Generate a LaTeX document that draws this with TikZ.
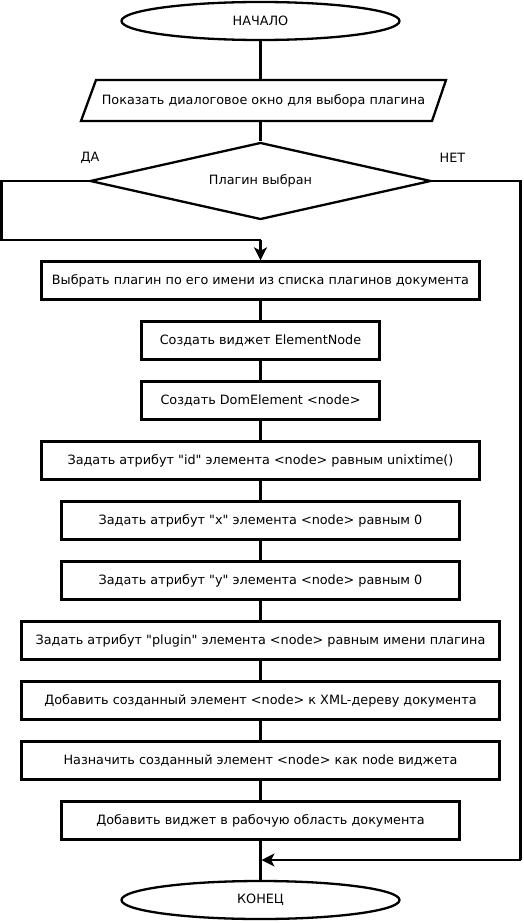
\documentclass[tikz,border=0pt]{standalone}
\usepackage{fontspec}
\setmainfont{DejaVu Sans}[Ligatures=TeXOff]
\usetikzlibrary{shapes.geometric,arrows.meta}
\tikzset{
  base/.style={draw=black, line width=2.3pt, inner sep=0pt, font=\fontsize{12.8}{15}\selectfont},
  procbox/.style={base, rectangle, minimum height=38pt},
  term/.style={base, ellipse, minimum width=278pt, minimum height=38pt},
  decis/.style={base, diamond, aspect=4.34, minimum width=341pt, minimum height=77pt},
  lbl/.style={inner sep=0pt, font=\fontsize{12.8}{15}\selectfont},
  conn/.style={line width=2.3pt, draw=black},
  arr/.style={conn, -{Stealth[length=13pt,width=13pt,inset=3.5pt]}}
}
\begin{document}
\begin{tikzpicture}[x=1pt,y=-1pt]
\fill[white] (0,0) rectangle (524,923);
\useasboundingbox (0,0) rectangle (524,923);

\node[term] (start) at (260.5,21) {НАЧАЛО};
\node[lbl] (io) at (263.5,100.5) {Показать диалоговое окно для выбора плагина};
\draw[line width=2.3pt, line join=miter] (96,80) -- (446,80) -- (432,121) -- (81,121) -- cycle;
\coordinate (ioN) at (260.5,80);
\coordinate (ioS) at (260.5,121);
\node[decis] (dia) at (260.5,181) {};
\node[lbl] at (260.5,181) {Плагин выбран};
\node[lbl] (yes) at (90,157.5) {ДА};
\node[lbl] (no) at (452.5,157.5) {НЕТ};

\node[procbox, minimum width=438pt] (b1) at (260.5,280.5) {Выбрать плагин по его имени из списка плагинов документа};
\node[procbox, minimum width=238pt] (b2) at (260.5,340.5) {Создать виджет ElementNode};
\node[procbox, minimum width=238pt] (b3) at (260.5,400.5) {Создать DomElement <node>};
\node[procbox, minimum width=438pt] (b4) at (260.5,460.5) {Задать атрибут "id" элемента <node> равным unixtime()};
\node[procbox, minimum width=398pt] (b5) at (260.5,520.5) {Задать атрибут "x" элемента <node> равным 0};
\node[procbox, minimum width=398pt] (b6) at (260.5,580.5) {Задать атрибут "y" элемента <node> равным 0};
\node[procbox, minimum width=478pt] (b7) at (260.5,640.5) {Задать атрибут "plugin" элемента <node> равным имени плагина};
\node[procbox, minimum width=478pt] (b8) at (260.5,700.5) {Добавить созданный элемент <node> к XML-дереву документа};
\node[procbox, minimum width=478pt] (b9) at (260.5,760.5) {Назначить созданный элемент <node> как node виджета};
\node[procbox, minimum width=398pt] (b10) at (260.5,820.5) {Добавить виджет в рабочую область документа};
\node[term] (stop) at (260.5,900) {КОНЕЦ};

\coordinate (L1) at (1.5,181);
\coordinate (L2) at (1.5,240);
\coordinate (J1) at (260.5,240);
\coordinate (R1) at (520.5,181);
\coordinate (R2) at (520.5,860);
\coordinate (J2) at (261.5,860);

\draw[conn] (start.south) -- (ioN);
\draw[conn] (ioS) -- (dia.north);
\draw[conn, line join=miter] (dia.west) -- (L1) -- (L2) -- (J1);
\draw[arr] (J1) -- (b1.north);
\draw[conn, line join=miter] (dia.east) -- (R1) -- (R2);
\draw[arr] (R2) -- (J2);
\draw[conn] (b1) -- (b2);
\draw[conn] (b2) -- (b3);
\draw[conn] (b3) -- (b4);
\draw[conn] (b4) -- (b5);
\draw[conn] (b5) -- (b6);
\draw[conn] (b6) -- (b7);
\draw[conn] (b7) -- (b8);
\draw[conn] (b8) -- (b9);
\draw[conn] (b9) -- (b10);
\draw[conn] (b10) -- (stop);
\end{tikzpicture}
\end{document}
